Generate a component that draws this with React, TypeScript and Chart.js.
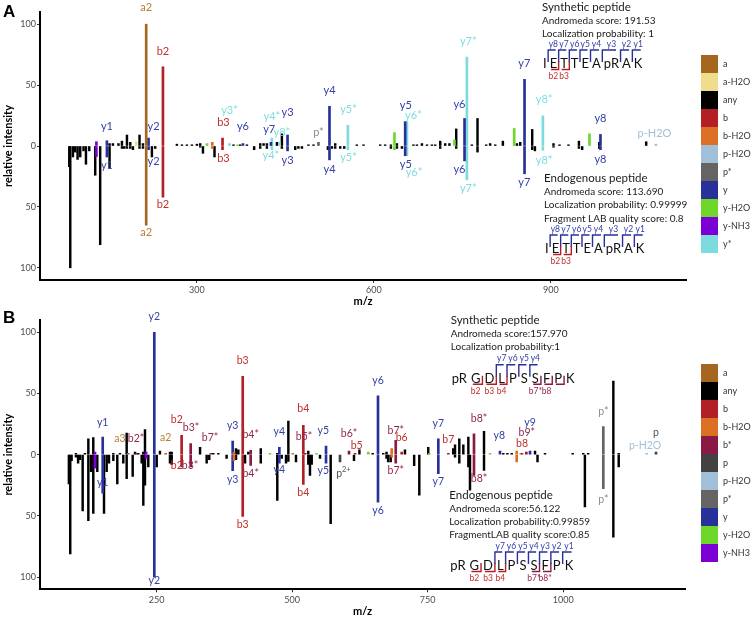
import React, { useEffect, useRef } from 'react';
import { Chart, registerables } from 'chart.js';
Chart.register(...registerables);

const FONT = 'Lato, "Open Sans", sans-serif';

const COLORS: Record<string, string> = {
  'a': '#A5661F', 'a-H2O': '#F0DD8C', 'any': '#000000', 'b': '#B21F24', 'b-H2O': '#DB7024',
  'b*': '#8A1A44', 'p': '#424242', 'p-H2O': '#A2BFD9', 'p*': '#646464', 'y': '#28309A',
  'y-H2O': '#6FD62A', 'y-NH3': '#7B00D3', 'y*': '#7EDBDD',
};
const LABEL_COLORS: Record<string, string> = {
  'a': '#B88030', 'b': '#C0302E', 'y': '#3341A8', 'y*': '#7FDDE2', 'p*': '#8C8C8C', 'p': '#555555',
  'b*': '#92284F', 'p-H2O': '#A2BFD9',
};

// ---------- Panel A data ----------
const A_X_TICKS = [300, 600, 900];
const Y_TICKS = [-100, -50, 0, 50, 100];
const A_LEGEND = ['a', 'a-H2O', 'any', 'b', 'b-H2O', 'p-H2O', 'p*', 'y', 'y-H2O', 'y-NH3', 'y*'];
// [m/z, synthetic intensity (up), endogenous intensity (down), ion type]
const A_PEAKS: [number, number, number, string][] = [
  [83.6, 0, -17, 'any'], [85.3, 0, -100, 'any'], [89.8, 0, -9, 'any'], [93.7, 0, -5, 'any'],
  [97.7, 0, -11, 'any'], [102.2, 0, -9, 'any'], [107.8, 0, -4, 'any'], [111.9, 0, -15, 'any'],
  [117.5, 0, -4, 'any'], [127.6, 0, -24, 'any'], [129.6, 3.5, -8.7, 'y-NH3'], [136, 0, -81, 'any'],
  [147.4, 4.3, -9, 'y'], [151.9, 2, -18, 'any'], [157.6, 2, 0, 'any'], [167, 2, 0, 'any'],
  [172.9, 4, -2, 'any'], [176.8, 0, -2, 'any'], [181.4, 9, -2, 'any'], [187, 3, -2, 'any'],
  [191.5, 0, -3, 'any'], [197.1, 3.5, 0, 'a-H2O'], [202.7, 9, -2, 'any'], [208.5, 2, -2, 'any'],
  [214, 100, -65, 'a'], [218, 6.5, -3, 'y'], [223.7, 0, -9, 'any'], [229.3, 0, -2, 'any'],
  [242.4, 65, -42, 'b'], [266, 1.5, 0, 'any'], [274.6, 1, 0, 'any'], [283, 1, 0, 'any'],
  [291.5, 1, 0, 'any'], [300, 1.5, 0, 'any'], [305.6, 2, -1, 'any'], [310.2, 0, -6, 'any'],
  [317, 2, 0, 'y-H2O'], [326, 3, -2, 'b-H2O'], [329.8, 0, -9, 'any'], [343.4, 6.5, -3, 'b'],
  [355.3, 2, 0, 'y*'], [362, 1, 0, 'any'], [368.8, 1, 0, 'y-H2O'], [373.4, 1, 0, 'any'],
  [378, 2, 0, 'y'], [384.7, 1, 0, 'any'], [397, 0, -3, 'any'], [407.3, 2, -2, 'any'],
  [413, 2, 0, 'any'], [418.6, 2, -2, 'any'], [425.4, 3, 0, 'y'], [427, 6.5, -3, 'y*'],
  [435.6, 3, 0, 'any'], [440, 3, 0, 'y*'], [444, 10, -2, 'any'], [453.6, 9, -4, 'y'],
  [466.6, 0, -3, 'any'], [472, 0, -2, 'any'], [478, 0, -2, 'any'], [489, 1, 0, 'any'],
  [497.6, 1, 0, 'any'], [506, 3, 0, 'p*'], [522, 0, -3, 'any'], [524.7, 32.6, -11.4, 'y'],
  [528.8, 0, -2, 'any'], [534.4, 2, -2, 'any'], [542.9, 0, -2, 'any'], [549.7, 0, -2, 'any'],
  [555.9, 17, -3, 'y*'], [571, 1, 0, 'any'], [582.4, 1, 0, 'any'], [610.7, 1, 0, 'any'],
  [619, 1, 0, 'any'], [628.8, 1, -2, 'any'], [634.9, 11, -3, 'y-H2O'], [639, 2, -2, 'any'],
  [647.5, 0, -2, 'any'], [653, 20, -8, 'y'], [656, 20, -8, 'y*'], [667, 1, 0, 'any'],
  [672.9, 1, 0, 'any'], [681.4, 2, 0, 'any'], [690, 1, 0, 'any'], [698.3, 1, 0, 'any'],
  [703.9, 1, 0, 'any'], [712.4, 4, -2, 'any'], [720.8, 2, 0, 'any'], [728, 2, 0, 'any'],
  [736.6, 5, 0, 'y-H2O'], [739.5, 14, -2, 'any'], [753.6, 22.6, -12.2, 'y'], [757.6, 73, -27.8, 'y*'],
  [766, 1, 0, 'any'], [775.6, 22.6, -5, 'any'], [790.3, 1, 0, 'any'], [797, 2, 0, 'any'],
  [805.6, 1, 0, 'any'], [818.6, 4, 0, 'any'], [837.8, 14.4, 0, 'y-H2O'], [842.4, 2, 0, 'any'],
  [848, 3, 0, 'any'], [855.3, 54.7, -22.8, 'y'], [868.3, 13.6, -3, 'any'], [872.9, 0, -4, 'any'],
  [886.4, 24.7, -3.5, 'y*'], [904.4, 2, -1, 'any'], [914.6, 1, 0, 'any'], [929.8, 1, 0, 'any'],
  [947.5, 4, -2, 'any'], [953, 0, -3, 'any'], [965.4, 10, 0, 'y-H2O'], [981.9, 3, -2, 'any'],
  [984, 9.5, -3, 'y'], [1061.5, 3.5, 0, 'any'], [1078, 1.5, 0, 'p-H2O'],
];
// [text, ion type, m/z, intensity level of the label]
const A_LABELS: [string, string, number, number][] = [
  ['a2', 'a', 214, 113.5], ['b2', 'b', 242.4, 77.6], ['y1', 'y', 147.4, 16.3], ['y2', 'y', 226.4, 16.3],
  ['y3*', 'y*', 355.3, 29.4], ['b3', 'b', 345, 19], ['y6', 'y', 378, 15.8], ['y4*', 'y*', 427, 23.9],
  ['y3', 'y', 453.6, 27.5], ['y7', 'y', 422.5, 13.9], ['y8*', 'y*', 444, 11.2], ['p*', 'p*', 506, 10.9],
  ['y4', 'y', 524.7, 45.7], ['y5*', 'y*', 557, 30.4], ['y5', 'y', 654, 32.9], ['y6*', 'y*', 667, 25.3],
  ['y6', 'y', 745, 34.3], ['y7*', 'y*', 760, 86], ['y7', 'y', 855, 67.5], ['y8*', 'y*', 888.6, 38.4],
  ['y8', 'y', 984, 22.6], ['p-H2O', 'p-H2O', 1075.6, 10.4],
  ['a2', 'a', 214, -71.3], ['b2', 'b', 242.4, -48.2], ['y1', 'y', 147.4, -16.1], ['y2', 'y', 226.4, -12.8],
  ['b3', 'b', 345, -10], ['y4*', 'y*', 425.4, -7.6], ['y3', 'y', 453.6, -12.2], ['y4', 'y', 524.7, -19],
  ['y5*', 'y*', 557, -9.8], ['y5', 'y', 654, -15.5], ['y6*', 'y*', 668, -21.5], ['y6', 'y', 745, -19.6],
  ['y7*', 'y*', 760, -34.5], ['y7', 'y', 855, -30], ['y8*', 'y*', 888.6, -12.2], ['y8', 'y', 984, -11.4],
];
const A_SYN_TEXT = ['Synthetic peptide', 'Andromeda score: 191.53', 'Localization probability: 1'];
const A_END_TEXT = ['Endogenous peptide', 'Andromeda score: 113.690', 'Localization probability: 0.99999', 'Fragment LAB quality score: 0.8'];
const A_SEQ = ['I', 'E', 'T', 'T', 'E', 'A', 'pR', 'A', 'K'];
const A_SYN_Y: [number, string][] = [[1, 'y8'], [2, 'y7'], [3, 'y6'], [4, 'y5'], [5, 'y4'], [6, 'y3'], [7, 'y2'], [8, 'y1']];
const A_SYN_B: [number, string, string][] = [[1, 'b2', 'b'], [2, 'b3', 'b']];
const A_END_Y: [number, string][] = [[1, 'y8'], [2, 'y7'], [3, 'y6'], [4, 'y5'], [5, 'y4'], [6, 'y3'], [7, 'y2'], [8, 'y1']];
const A_END_B: [number, string, string][] = [[1, 'b2', 'b'], [2, 'b3', 'b']];

// ---------- Panel B data ----------
const B_X_TICKS = [250, 500, 750, 1000];
const B_LEGEND = ['a', 'any', 'b', 'b-H2O', 'b*', 'p', 'p-H2O', 'p*', 'y', 'y-H2O', 'y-NH3'];
const B_PEAKS: [number, number, number, string][] = [
  [88, 0, -24, 'any'], [90.5, 0, -81, 'any'], [93, 0, -5, 'any'], [101, 1, -2, 'any'],
  [105, 0, -7, 'any'], [108.5, 0, -4, 'any'], [113.4, 0, -46, 'any'], [117.7, 1, 0, 'any'],
  [123.9, 13, -54, 'any'], [128.8, 0, -14, 'any'], [133, 14, -48, 'any'], [136.2, 2, -11, 'y-NH3'],
  [140.4, 0, -14, 'any'], [150.4, 14.4, -31.4, 'y'], [152.8, 0, -48, 'any'], [157.7, 0, -14, 'any'],
  [162, 0, -7, 'any'], [170, 1, -5, 'any'], [177.3, 0, -24, 'any'], [182.3, 1, 0, 'any'],
  [188.4, 0, -7, 'any'], [194.6, 17.7, -19.6, 'any'], [197.6, 1, 0, 'a'], [205.7, 0, -17.7, 'any'],
  [210, 2, 0, 'any'], [212, 1, 0, 'b*'], [216, 1, 0, 'any'], [222.3, 0, -7, 'any'],
  [225.3, 2, -41.5, 'any'], [228.4, 20.4, -25, 'any'], [230.5, 2, -3, 'y-NH3'], [234.5, 0, -10, 'any'],
  [245.6, 100, -100, 'y'], [250, 0, -10, 'any'], [256, 3, 0, 'any'], [266.6, 1, 0, 'a'],
  [274.5, 2, -7, 'any'], [277.7, 2, -8, 'any'], [296, 15.8, -10, 'b'], [312.7, 9, -10, 'b*'],
  [330, 6, 0, 'any'], [342.2, 0, -7, 'any'], [347, 0, -4, 'any'], [350, 1, 0, 'b*'],
  [354.4, 1, 0, 'any'], [363.7, 1, 0, 'any'], [379, 0, -3, 'any'], [390.2, 11, -13, 'y'],
  [392.6, 2, -5, 'b-H2O'], [396.3, 5, -4, 'any'], [400.6, 4, 0, 'any'], [408.7, 64, -50.5, 'b'],
  [413, 0, -7, 'any'], [419, 2, 0, 'any'], [423.4, 3.5, -8.7, 'b*'], [442, 5, -7, 'any'],
  [459, 1, 0, 'y-H2O'], [472.5, 1, -37.4, 'any'], [476.3, 6, -7, 'y'], [480.6, 0, -3, 'any'],
  [488.6, 0, -7, 'any'], [492.9, 27.5, -5.5, 'any'], [501, 1, 0, 'b-H2O'], [507, 0, -6, 'any'],
  [520.5, 24, -24.3, 'b'], [524, 1, 0, 'b*'], [529.7, 3, -8, 'any'], [532.8, 0, -17, 'any'],
  [536, 0, -8, 'any'], [545, 1, 0, 'y-H2O'], [551.3, 0, -3, 'any'], [562.4, 7, -7, 'y'],
  [571, 0, -56.4, 'any'], [588.2, 0, -6, 'p'], [604.8, 3, 0, 'b*'], [614, 0, -5, 'any'],
  [616, 1, 0, 'b'], [624, 4, 0, 'any'], [640.4, 2, 0, 'y-H2O'], [648.5, 1, 0, 'any'],
  [658.3, 48, -38.8, 'y'], [668, 1, 0, 'any'], [674, 2, -3, 'any'], [677, 0, -6, 'any'],
  [681.7, 0, -6, 'any'], [683.6, 5, -2, 'b-H2O'], [691, 11.7, -7, 'b*'], [702, 2, 0, 'b'],
  [708, 4, 0, 'any'], [725, 0, -9, 'any'], [734.5, 0, -33, 'any'], [751, 6, 0, 'any'],
  [753, 1, 0, 'y-H2O'], [769.6, 13, -15.5, 'y'], [788, 1, 0, 'b'], [797, 5, 0, 'any'],
  [800.4, 8, -2, 'any'], [808.3, 13, -7, 'any'], [815.7, 8, 0, 'any'], [825, 14.4, -10, 'any'],
  [828, 0, -29, 'any'], [835.4, 17, -17, 'b*'], [853.9, 19, -12.8, 'any'], [865, 1, 0, 'y-H2O'],
  [883.4, 3, 0, 'y'], [889.5, 1, 0, 'any'], [897, 1, 0, 'any'], [905, 1, 0, 'any'],
  [914.2, 3, -6, 'b-H2O'], [921.6, 1, 0, 'y-H2O'], [924, 1, 0, 'b'], [932, 2, 0, 'b*'],
  [938.8, 3, 0, 'y'], [948, 3, 0, 'any'], [952.6, 0, -6, 'any'], [966.4, 1, 0, 'any'],
  [1017.5, 1, 0, 'any'], [1037, 1, 0, 'any'], [1040, 0, -42.8, 'any'], [1046, 1, 0, 'any'],
  [1074, 23, -27.8, 'p*'], [1092.5, 60.2, -67.4, 'any'], [1102.4, 1, -10, 'any'],
  [1154, 1, 0, 'p-H2O'], [1171.2, 2, 0, 'p'],
];
const B_LABELS: [string, string, number, number][] = [
  ['y2', 'y', 245.6, 112.5], ['y1', 'y', 150.4, 26.2], ['a3', 'a', 182.3, 12.8], ['b2*', 'b*', 211.8, 12.8],
  ['a2', 'a', 266.6, 13.6], ['b2', 'b', 287, 28.9], ['b3*', 'b*', 313.3, 22.3], ['b7*', 'b*', 348.3, 13.6],
  ['y3', 'y', 390.2, 23.7], ['b3', 'b', 408.7, 76.5], ['b4*', 'b*', 423.4, 16], ['y4', 'y', 476.2, 18.5],
  ['b4', 'b', 520.5, 37.3], ['b5*', 'b*', 521.8, 14.4], ['y5', 'y', 557.4, 19.9], ['b6*', 'b*', 604.8, 17.2],
  ['b5', 'b', 619, 7.6], ['y6', 'y', 658.3, 60.8], ['b7*', 'b*', 691, 19.3], ['b6', 'b', 702, 13.9],
  ['y7', 'y', 769.6, 25.3], ['b7', 'b', 788, 12.5], ['b8*', 'b*', 844.6, 29.4], ['y8', 'y', 882, 15.8],
  ['y9', 'y', 938.7, 26.2], ['b9*', 'b*', 932.7, 17.7], ['b8', 'b', 924, 9], ['p*', 'p*', 1074, 35.4],
  ['p', 'p', 1171.2, 17.7], ['p-H2O', 'p-H2O', 1151, 7.6],
  ['y1', 'y', 150.4, -23.2], ['b2', 'b', 287, -9.3], ['b3*', 'b*', 311.4, -9.3], ['y3', 'y', 390.2, -20.2],
  ['b4*', 'b*', 423.4, -15.5], ['b3', 'b', 408.7, -57.2], ['y2', 'y', 245.6, -102.8], ['y4', 'y', 476.2, -12],
  ['b4', 'b', 520.5, -31.4], ['y5', 'y', 557.4, -12.8], ['p2+', 'p', 594.3, -15.5], ['y6', 'y', 658.3, -46.1],
  ['b7*', 'b*', 691, -13.4], ['y7', 'y', 769.6, -22.4], ['b8*', 'b*', 844.6, -19.6], ['p*', 'p*', 1074, -36.5],
];
const B_SYN_TEXT = ['Synthetic peptide', 'Andromeda score:157.970', 'Localization probability:1'];
const B_END_TEXT = ['Endogenous peptide', 'Andromeda score:56.122', 'Localization probability:0.99859', 'FragmentLAB quality score:0.85'];
const B_SEQ = ['pR', 'G', 'D', 'L', 'P', 'S', 'S', 'F', 'P', 'K'];
const B_SYN_Y: [number, string][] = [[3, 'y7'], [4, 'y6'], [5, 'y5'], [6, 'y4']];
const B_SYN_B: [number, string, string][] = [[1, 'b2', 'b'], [2, 'b3', 'b'], [3, 'b4', 'b'], [6, 'b7*', 'b*'], [7, 'b8', 'b*'], [8, '', 'b*']];
const B_END_Y: [number, string][] = [[3, 'y7'], [4, 'y6'], [5, 'y5'], [6, 'y4'], [7, 'y3'], [8, 'y2'], [9, 'y1']];
const B_END_B: [number, string, string][] = [[1, 'b2', 'b'], [2, 'b3', 'b'], [3, 'b4', 'b'], [6, 'b7*', 'b*'], [7, 'b8*', 'b*']];

type Block = { x: number; ys: number[]; seqY: number; gap: number; text: string[]; yIons: [number, string][]; bIons: [number, string, string][] };
type Panel = {
  letter: string; height: number; padTop: number; xMin: number; xMax: number; xTicks: number[];
  peaks: [number, number, number, string][]; labels: [string, string, number, number][];
  legend: string[]; legendTop: number; labelSize: number; seq: string[]; blocks: Block[];
};

const PANEL_A: Panel = {
  letter: 'A', height: 309, padTop: 12, xMin: 34, xMax: 1129, xTicks: A_X_TICKS,
  peaks: A_PEAKS, labels: A_LABELS, legend: A_LEGEND, legendTop: 55, labelSize: 11, seq: A_SEQ,
  blocks: [
    { x: 542, ys: [7, 20.7, 33.3], seqY: 63, gap: 3, text: A_SYN_TEXT, yIons: A_SYN_Y, bIons: A_SYN_B },
    { x: 544, ys: [178.3, 191.7, 205, 218.3], seqY: 248, gap: 3, text: A_END_TEXT, yIons: A_END_Y, bIons: A_END_B },
  ],
};
const PANEL_B: Panel = {
  letter: 'B', height: 310, padTop: 11, xMin: 34.7, xMax: 1224.7, xTicks: B_X_TICKS,
  peaks: B_PEAKS, labels: B_LABELS, legend: B_LEGEND, legendTop: 55, labelSize: 10.5, seq: B_SEQ,
  blocks: [
    { x: 450.7, ys: [11, 24.3, 37.7], seqY: 68.7, gap: 4, text: B_SYN_TEXT, yIons: B_SYN_Y, bIons: B_SYN_B },
    { x: 449.3, ys: [186, 199.3, 212.7, 225.3], seqY: 256, gap: 4, text: B_END_TEXT, yIons: B_END_Y, bIons: B_END_B },
  ],
};

function drawSeq(ctx: CanvasRenderingContext2D, x0: number, cy: number, seq: string[], gap: number,
  yIons: [number, string][], bIons: [number, string, string][]) {
  ctx.font = `13px ${FONT}`;
  const lefts: number[] = []; const widths: number[] = [];
  let cur = x0;
  seq.forEach(r => { const w = ctx.measureText(r).width; lefts.push(cur); widths.push(w); cur += w + gap; });
  ctx.fillStyle = '#111'; ctx.textAlign = 'left'; ctx.textBaseline = 'middle';
  seq.forEach((r, i) => ctx.fillText(r, lefts[i], cy + 1));
  ctx.lineWidth = 1.4;
  ctx.font = `8.5px ${FONT}`; ctx.textAlign = 'center';
  yIons.forEach(([i, lab]) => {
    const bx = lefts[i] - gap / 2;
    ctx.strokeStyle = COLORS['y'];
    ctx.beginPath(); ctx.moveTo(bx, cy - 1); ctx.lineTo(bx, cy - 13); ctx.lineTo(lefts[i] + widths[i] * 0.8, cy - 13); ctx.stroke();
    ctx.fillStyle = LABEL_COLORS['y']; ctx.fillText(lab, lefts[i] + widths[i] / 2, cy - 19);
  });
  bIons.forEach(([i, lab, ty]) => {
    const bx = lefts[i] + widths[i] + gap / 2;
    ctx.strokeStyle = COLORS[ty];
    ctx.beginPath(); ctx.moveTo(bx, cy - 2); ctx.lineTo(bx, cy + 6.5); ctx.lineTo(lefts[i] + widths[i] * 0.2, cy + 6.5); ctx.stroke();
    ctx.fillStyle = LABEL_COLORS[ty]; ctx.fillText(lab, lefts[i] + widths[i] / 2, cy + 13.5);
  });
}

function annotPlugin(p: Panel) {
  return {
    id: 'annot' + p.letter,
    afterDraw(chart: any) {
      const ctx: CanvasRenderingContext2D = chart.ctx;
      const xs = chart.scales.x; const ys = chart.scales.y;
      ctx.save();
      // peak labels
      ctx.textAlign = 'center'; ctx.textBaseline = 'middle';
      p.labels.forEach(([t, ty, mz, v]) => {
        const px = xs.getPixelForValue(mz); const py = ys.getPixelForValue(v);
        ctx.fillStyle = LABEL_COLORS[ty] ?? COLORS[ty];
        if (t === 'p2+') {
          ctx.font = `${p.labelSize}px ${FONT}`;
          ctx.fillText('p', px - 4, py);
          ctx.font = `${p.labelSize * 0.7}px ${FONT}`;
          ctx.fillText('2+', px + 3, py - 4);
        } else {
          ctx.font = `${p.labelSize}px ${FONT}`;
          ctx.fillText(t, px, py);
        }
      });
      // panel letter
      ctx.font = 'bold 17px "Liberation Sans", Arial, sans-serif';
      ctx.textAlign = 'left'; ctx.textBaseline = 'alphabetic'; ctx.fillStyle = '#000';
      ctx.fillText(p.letter, 3, p.letter === 'A' ? 17 : 14);
      // legend
      ctx.font = `9px ${FONT}`; ctx.textBaseline = 'middle';
      p.legend.forEach((t, i) => {
        const top = p.legendTop + i * 18;
        ctx.fillStyle = COLORS[t]; ctx.fillRect(701, top, 17, 18);
        ctx.fillStyle = '#333'; ctx.fillText(t, 723, top + 9);
      });
      // text blocks
      p.blocks.forEach(b => {
        ctx.textAlign = 'left'; ctx.textBaseline = 'middle'; ctx.fillStyle = '#1a1a1a';
        b.text.forEach((t, i) => {
          ctx.font = i === 0 ? `11.5px ${FONT}` : `10px ${FONT}`;
          ctx.fillText(t, b.x, b.ys[i]);
        });
        drawSeq(ctx, b.x + 1, b.seqY, p.seq, b.gap, b.yIons, b.bIons);
      });
      ctx.restore();
    },
  };
}

function buildConfig(p: Panel): any {
  const types = Object.keys(COLORS);
  const datasets = types.map(t => {
    const data: { x: number; y: number }[] = [];
    p.peaks.forEach(([mz, up, dn, ty]) => {
      if (ty !== t) return;
      if (up) data.push({ x: mz, y: up });
      if (dn) data.push({ x: mz, y: dn });
    });
    return {
      label: t, data, backgroundColor: COLORS[t], borderWidth: 0,
      barThickness: t === 'any' ? 1.8 : 2, grouped: false, order: t === 'any' ? 10 : 1,
    };
  }).filter(d => d.data.length > 0);
  return {
    type: 'bar',
    data: { datasets },
    options: {
      animation: false, responsive: false, devicePixelRatio: 1,
      layout: { padding: { left: 0, top: p.padTop, right: 756 - (p.letter === 'A' ? 686 : 685), bottom: 0 } },
      plugins: { legend: { display: false }, tooltip: { enabled: false } },
      scales: {
        x: {
          type: 'linear', min: p.xMin, max: p.xMax, offset: false,
          afterBuildTicks: (s: any) => { s.ticks = p.xTicks.map(v => ({ value: v })); },
          afterFit: (s: any) => { s.height = p.height - (p.letter === 'A' ? 280 : 280.3); },
          grid: { display: true, drawOnChartArea: false, drawTicks: true, tickLength: 3, color: '#333', offset: false },
          border: { display: true, color: '#000', width: 2 },
          ticks: { font: { family: FONT, size: 9 }, color: '#4d4d4d', padding: 2, maxRotation: 0, autoSkip: false, callback: (v: number) => String(v) },
          title: { display: true, text: 'm/z', font: { family: FONT, size: 11, weight: 'bold' }, color: '#000', padding: { top: 0, bottom: 1 } },
        },
        y: {
          type: 'linear', min: -110, max: 110,
          afterBuildTicks: (s: any) => { s.ticks = Y_TICKS.map(v => ({ value: v })); },
          afterFit: (s: any) => { s.width = 40; },
          grid: { display: true, drawOnChartArea: false, drawTicks: true, tickLength: 3, color: '#333' },
          border: { display: true, color: '#000', width: 2 },
          ticks: { font: { family: FONT, size: 9 }, color: '#4d4d4d', padding: 1, callback: (v: number) => String(Math.abs(v)) },
          title: { display: true, text: 'relative intensity', font: { family: FONT, size: 11, weight: 'bold' }, color: '#000', padding: { top: 2, bottom: 0 } },
        },
      },
    },
    plugins: [annotPlugin(p)],
  };
}

export default function App() {
  const refA = useRef<HTMLCanvasElement>(null);
  const refB = useRef<HTMLCanvasElement>(null);
  useEffect(() => {
    const ca = new Chart(refA.current as HTMLCanvasElement, buildConfig(PANEL_A));
    const cb = new Chart(refB.current as HTMLCanvasElement, buildConfig(PANEL_B));
    return () => { ca.destroy(); cb.destroy(); };
  }, []);
  return (
    <div style={{ position: 'absolute', left: 0, top: 0, width: 756, height: 619, background: '#fff' }}>
      <canvas ref={refA} width={756} height={309} style={{ position: 'absolute', left: 0, top: 0, width: 756, height: 309 }} />
      <canvas ref={refB} width={756} height={310} style={{ position: 'absolute', left: 0, top: 309, width: 756, height: 310 }} />
    </div>
  );
}
